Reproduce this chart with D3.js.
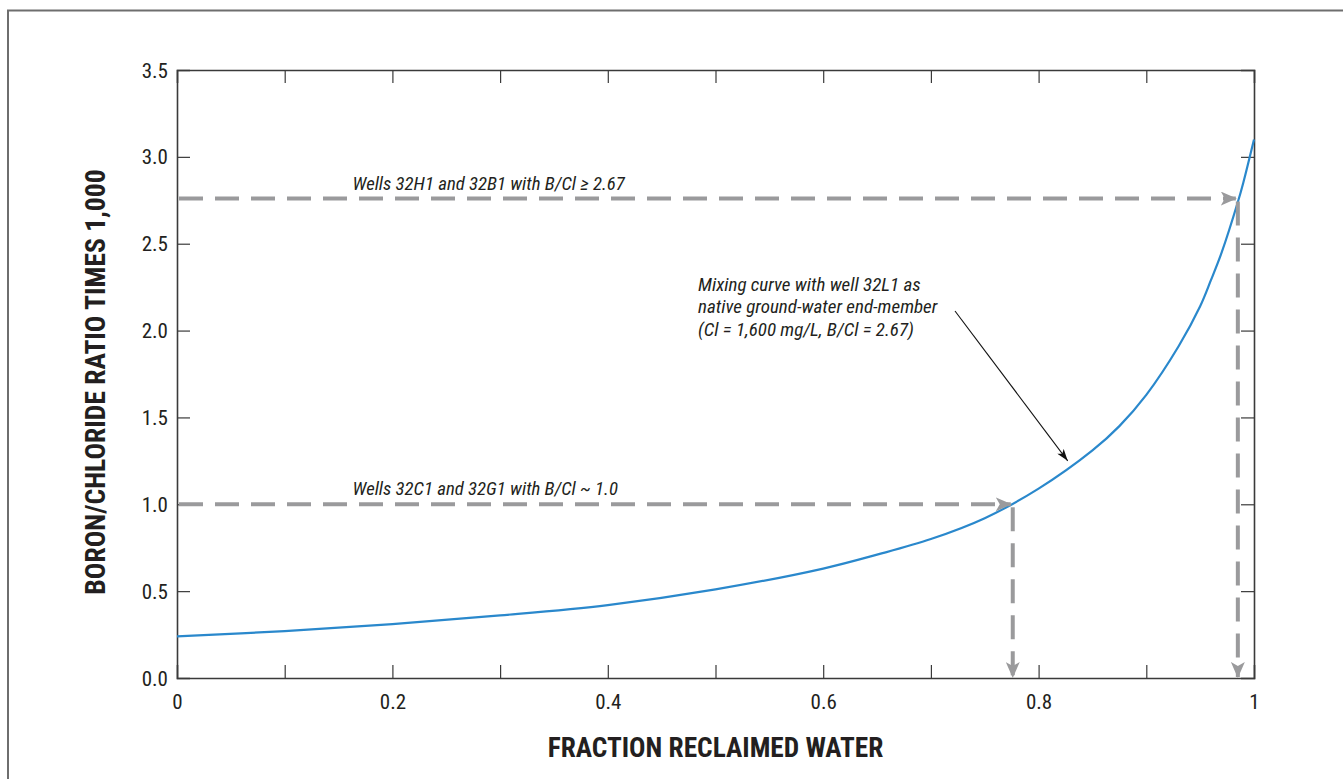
<!DOCTYPE html>
<html><head><meta charset="utf-8">
<script src="https://cdn.jsdelivr.net/npm/d3@7"></script>
<style>
html,body{margin:0;padding:0;background:#fff;}
svg{display:block;}
.cond{font-family:"Roboto Condensed","Liberation Sans Narrow","Arial Narrow",sans-serif;}
</style></head>
<body>
<svg id="chart" width="1343" height="779"></svg>
<script>
// ---- data ----
const fraction = [0, 0.1, 0.2, 0.3, 0.4, 0.5, 0.6, 0.65, 0.7, 0.75, 0.8, 0.85, 0.875, 0.9, 0.93, 0.95, 0.96, 0.97, 0.985, 0.99, 1.0];
const ratio    = [0.24, 0.27, 0.31, 0.36, 0.42, 0.51, 0.63, 0.71, 0.80, 0.92, 1.09, 1.31, 1.45, 1.63, 1.91, 2.14, 2.29, 2.45, 2.74, 2.85, 3.10];
const xTickValues = [0, 0.1, 0.2, 0.3, 0.4, 0.5, 0.6, 0.7, 0.8, 0.9, 1];
const xTickLabels = ["0", "", "0.2", "", "0.4", "", "0.6", "", "0.8", "", "1"];
const yTickValues = [0, 0.5, 1, 1.5, 2, 2.5, 3, 3.5];
const yTickLabels = ["0.0", "0.5", "1.0", "1.5", "2.0", "2.5", "3.0", "3.5"];
const guideY = [2.76, 1.0];          // horizontal dashed guides
const guideX = [0.985, 0.776];       // where they meet the curve
const guideLabels = ["Wells 32H1 and 32B1 with B/Cl \u2265 2.67", "Wells 32C1 and 32G1 with B/Cl ~ 1.0"];
const noteLines = ["Mixing curve with well 32L1 as", "native ground-water end-member", "(Cl = 1,600 mg/L, B/Cl = 2.67)"];
const xTitle = "FRACTION RECLAIMED WATER";
const yTitle = "BORON/CHLORIDE RATIO TIMES 1,000";

// ---- layout ----
const svg = d3.select("#chart");
const L = 177, R = 1254, T = 70, B = 678;
const x = d3.scaleLinear().domain([0, 1]).range([L, R]);
const y = d3.scaleLinear().domain([0, 3.5]).range([B, T]);
const axisCol = "#3a3a3a", guideCol = "#9a9a9c", curveCol = "#2a88cc", textCol = "#231f20";

// figure frame (only top & left visible)
svg.append("path").attr("d", `M8,${779+5} L8,10.5 L${1343+5},10.5`)
  .attr("fill", "none").attr("stroke", "#6e6e6e").attr("stroke-width", 2);

const defs = svg.append("defs");
defs.append("marker").attr("id", "garrow").attr("viewBox", "0 0 16 14")
  .attr("refX", 15).attr("refY", 7).attr("markerWidth", 16).attr("markerHeight", 14)
  .attr("markerUnits", "userSpaceOnUse").attr("orient", "auto")
  .append("path").attr("d", "M0,0 L16,7 L0,14 L4,7 Z").attr("fill", guideCol);
defs.append("marker").attr("id", "karrow").attr("viewBox", "0 0 12 8")
  .attr("refX", 12).attr("refY", 4).attr("markerWidth", 12).attr("markerHeight", 8)
  .attr("markerUnits", "userSpaceOnUse").attr("orient", "auto")
  .append("path").attr("d", "M0,0 L12,4 L0,8 L3,4 Z").attr("fill", "#111");

// axes
const tickLen = 13;
const gB = svg.append("g").attr("transform", `translate(0,${B})`)
  .call(d3.axisBottom(x).tickValues(xTickValues).tickSize(-tickLen).tickPadding(16)
    .tickFormat((d, i) => xTickLabels[i]));
const gT = svg.append("g").attr("transform", `translate(0,${T})`)
  .call(d3.axisTop(x).tickValues(xTickValues).tickSize(-tickLen).tickFormat(""));
const gL = svg.append("g").attr("transform", `translate(${L},0)`)
  .call(d3.axisLeft(y).tickValues(yTickValues).tickSize(-tickLen).tickPadding(9)
    .tickFormat((d, i) => yTickLabels[i]));
const gR = svg.append("g").attr("transform", `translate(${R},0)`)
  .call(d3.axisRight(y).tickValues(yTickValues).tickSize(-tickLen).tickFormat(""));
[gB, gT, gL, gR].forEach(g => {
  g.attr("font-family", null).attr("font-size", null);
  g.select(".domain").attr("stroke", axisCol).attr("stroke-width", 1.6);
  g.selectAll(".tick line").attr("stroke", axisCol).attr("stroke-width", 1.2);
  g.selectAll("text").attr("class", "cond").style("font-size", "21px").attr("fill", textCol);
});
gB.selectAll(".tick line").filter(d => d === 0 || d === 1).remove();
gT.selectAll(".tick line").filter(d => d === 0 || d === 1).remove();
gL.selectAll(".tick line").filter(d => d === 0 || d === 3.5).remove();
gR.selectAll(".tick line").filter(d => d === 0 || d === 3.5).remove();
gL.selectAll("text").attr("dy", "0.34em");

// mixing curve
const pts = fraction.map((f, i) => [f, ratio[i]]);
svg.append("path").datum(pts)
  .attr("d", d3.line().x(d => x(d[0])).y(d => y(d[1])).curve(d3.curveCatmullRom.alpha(0.5)))
  .attr("fill", "none").attr("stroke", curveCol).attr("stroke-width", 2.2);

function stext(px, py, size, opts = {}) {
  return svg.append("text").attr("class", "cond")
    .attr("transform", `translate(${px},${py})${opts.rot ? " rotate(-90)" : ""}`)
    .style("font-size", size + "px")
    .attr("font-style", opts.italic ? "italic" : null)
    .attr("font-weight", opts.bold ? "bold" : null)
    .attr("text-anchor", opts.anchor || "start")
    .attr("fill", textCol);
}

// dashed guides
guideY.forEach((gy, i) => {
  svg.append("line").attr("x1", x(0) + 2).attr("x2", x(guideX[i]) - 2)
    .attr("y1", y(gy)).attr("y2", y(gy))
    .attr("stroke", guideCol).attr("stroke-width", 4).attr("stroke-dasharray", "24,12")
    .attr("marker-end", "url(#garrow)");
  svg.append("line").attr("x1", x(guideX[i])).attr("x2", x(guideX[i]))
    .attr("y1", y(gy) + 3).attr("y2", y(0) - 1)
    .attr("stroke", guideCol).attr("stroke-width", 4).attr("stroke-dasharray", "24,12")
    .attr("marker-end", "url(#garrow)");
  stext(x(0.163), y(gy) - 9, 18.8, {italic: true}).text(guideLabels[i]);
});

// annotation
noteLines.forEach((t, i) => stext(698, 290.5 + i * 22.5, 19, {italic: true}).text(t));
svg.append("line").attr("x1", 955).attr("y1", 311).attr("x2", x(0.827)).attr("y2", y(1.25))
  .attr("stroke", "#111").attr("stroke-width", 1.1).attr("marker-end", "url(#karrow)");

// titles
stext((L + R) / 2, 757, 27.3, {bold: true, anchor: "middle"}).text(xTitle);
stext(105, 382, 27.6, {bold: true, anchor: "middle", rot: true}).text(yTitle);
</script>
</body></html>
